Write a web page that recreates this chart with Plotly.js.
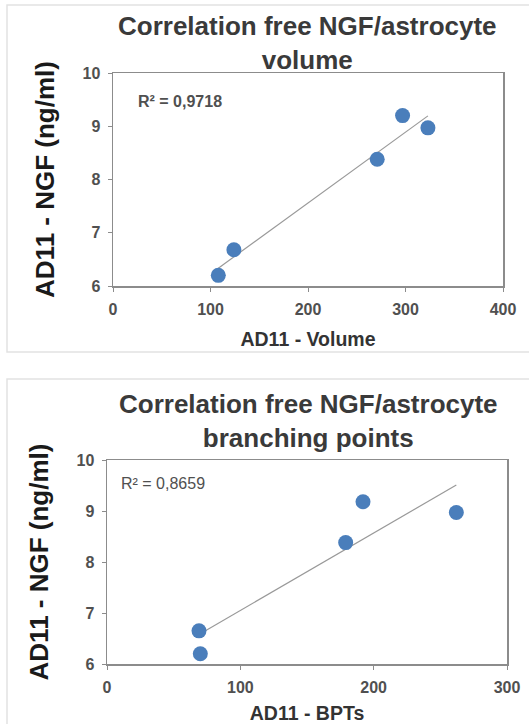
<!DOCTYPE html>
<html>
<head>
<meta charset="utf-8">
<script src="https://cdn.plot.ly/plotly-3.0.1.min.js"></script>
<style>html,body{margin:0;padding:0;background:#fff;}#chart{width:529px;height:724px;}</style>
</head>
<body>
<div id="chart"></div>
<script>
// ---- data ----
const volumeX = [108, 124, 271, 297, 323];
const ngfVolume = [6.2, 6.68, 8.38, 9.2, 8.97];
const bptX = [69, 70, 179, 192, 262];
const ngfBpt = [6.65, 6.2, 8.38, 9.18, 8.97];
const titleTop = 'Correlation free NGF/astrocyte<br>volume';
const titleBottom = 'Correlation free NGF/astrocyte<br>branching points';
const yTitle = 'AD11 - NGF (ng/ml)';
const xTitleTop = 'AD11 - Volume';
const xTitleBottom = 'AD11 - BPTs';
const r2Top = 'R² = 0,9718';
const r2Bottom = 'R² = 0,8659';
const xTicksTop = [0, 100, 200, 300, 400];
const xTicksBottom = [0, 100, 200, 300];
const yTicks = [6, 7, 8, 9, 10];

function fit(xs, ys) {
  const n = xs.length;
  const mx = xs.reduce((a, b) => a + b, 0) / n;
  const my = ys.reduce((a, b) => a + b, 0) / n;
  let sxy = 0, sxx = 0;
  for (let i = 0; i < n; i++) { sxy += (xs[i] - mx) * (ys[i] - my); sxx += (xs[i] - mx) ** 2; }
  const b = sxy / sxx, a = my - b * mx;
  const x0 = Math.min(...xs), x1 = Math.max(...xs);
  return { x: [x0, x1], y: [a + b * x0, a + b * x1] };
}

const W = 529, H = 724;
const px = v => v / W, py = v => 1 - v / H;

const FONT = 'Liberation Sans, Arial, sans-serif';
const markerColor = '#4A7EBB';
const axisColor = '#8C8C8C';
const tickFont = { family: FONT, size: 16, color: '#505050', weight: 'bold' };

const fitTop = fit(volumeX, ngfVolume);
const fitBottom = fit(bptX, ngfBpt);

const traces = [
  { x: fitTop.x, y: fitTop.y, mode: 'lines', line: { color: '#999999', width: 1.2 }, xaxis: 'x', yaxis: 'y', hoverinfo: 'skip' },
  { x: volumeX, y: ngfVolume, mode: 'markers', marker: { color: markerColor, size: 15 }, xaxis: 'x', yaxis: 'y' },
  { x: fitBottom.x, y: fitBottom.y, mode: 'lines', line: { color: '#999999', width: 1.2 }, xaxis: 'x2', yaxis: 'y2', hoverinfo: 'skip' },
  { x: bptX, y: ngfBpt, mode: 'markers', marker: { color: markerColor, size: 15 }, xaxis: 'x2', yaxis: 'y2' }
];

function xAxis(domain, range, ticks, title, anchor) {
  return {
    domain, range, tickvals: ticks, ticktext: ticks.map(String), anchor,
    showgrid: false, zeroline: false, showline: true, mirror: true,
    linecolor: axisColor, linewidth: 1.5, ticks: 'outside', ticklen: 4, tickcolor: axisColor,
    ticklabelstandoff: 4,
    tickfont: tickFont, automargin: false, fixedrange: true,
    title: { text: title, font: { family: FONT, size: 19.5, color: '#333333', weight: 'bold' }, standoff: 15 }
  };
}
function yAxis(domain, anchor) {
  return {
    domain, range: [6, 10], tickvals: yTicks, ticktext: yTicks.map(String), anchor,
    showgrid: false, zeroline: false, showline: true, mirror: true,
    linecolor: axisColor, linewidth: 1.5, ticks: 'outside', ticklen: 4, tickcolor: axisColor,
    ticklabelstandoff: 4,
    tickfont: tickFont, automargin: false, fixedrange: true,
    title: { text: yTitle, font: { family: FONT, size: 26, color: '#1a1a1a', weight: 'bold' }, standoff: 20 }
  };
}

const layout = {
  width: W, height: H, autosize: false,
  margin: { l: 0, r: 0, t: 0, b: 0, pad: 0 },
  paper_bgcolor: '#ffffff', plot_bgcolor: '#ffffff',
  showlegend: false,
  xaxis: xAxis([px(113), px(503)], [0, 400], xTicksTop, xTitleTop, 'y'),
  yaxis: yAxis([py(286), py(73)], 'x'),
  xaxis2: xAxis([px(107), px(507)], [0, 300], xTicksBottom, xTitleBottom, 'y2'),
  yaxis2: yAxis([py(664), py(460)], 'x2'),
  annotations: [
    { text: titleTop, xref: 'paper', yref: 'paper', x: px(307), y: py(43), xanchor: 'center', yanchor: 'middle', showarrow: false,
      font: { family: FONT, size: 26, color: '#3a3a3a', weight: 'bold' } },
    { text: titleBottom, xref: 'paper', yref: 'paper', x: px(308), y: py(421), xanchor: 'center', yanchor: 'middle', showarrow: false,
      font: { family: FONT, size: 26, color: '#3a3a3a', weight: 'bold' } },
    { text: r2Top, xref: 'paper', yref: 'paper', x: px(136), y: py(101), xanchor: 'left', yanchor: 'middle', showarrow: false,
      font: { family: FONT, size: 16, color: '#505050', weight: 'bold' } },
    { text: r2Bottom, xref: 'paper', yref: 'paper', x: px(119), y: py(483), xanchor: 'left', yanchor: 'middle', showarrow: false,
      font: { family: FONT, size: 16, color: '#505050' } }
  ],
  shapes: [
    { type: 'rect', xref: 'paper', yref: 'paper', x0: px(7), x1: px(545), y0: py(352), y1: py(5), line: { color: '#e2e2e2', width: 1.5 }, layer: 'below' },
    { type: 'rect', xref: 'paper', yref: 'paper', x0: px(7), x1: px(545), y0: py(740), y1: py(379), line: { color: '#e2e2e2', width: 1.5 }, layer: 'below' }
  ]
};

Plotly.newPlot('chart', traces, layout, { staticPlot: true, displayModeBar: false });
</script>
</body>
</html>
